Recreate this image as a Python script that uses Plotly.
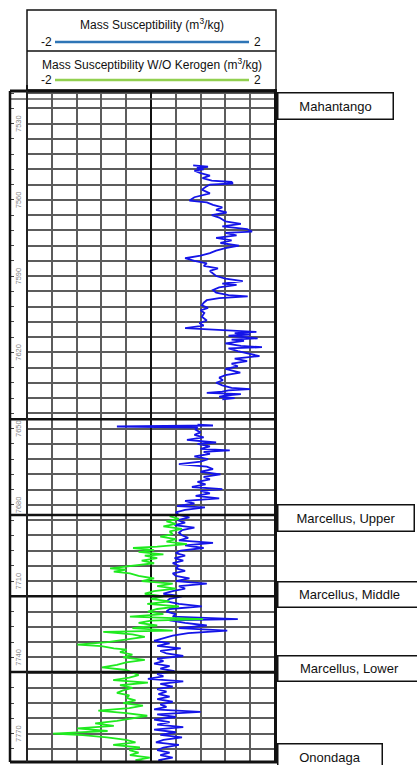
import plotly.graph_objects as go

W, H = 417, 765

# ---------------- data (depth in ft, value in m^3/kg scale -2..2) ----------------
blue_depth = [
    7546.5, 7547.0, 7547.5, 7548.0, 7548.5, 7549.5, 7550.5, 7551.5, 7552.5, 7553.0,
    7553.6, 7554.0, 7555.0, 7556.0, 7557.5, 7559.0, 7560.3, 7561.0, 7562.0, 7563.0,
    7564.0, 7565.0, 7566.0, 7567.0, 7568.5, 7569.5, 7570.5, 7571.5, 7572.5, 7573.0,
    7574.0, 7575.0, 7576.0, 7577.0, 7578.0, 7579.0, 7580.0, 7581.0, 7582.0, 7583.0,
    7584.0, 7585.0, 7586.0, 7587.0, 7588.0, 7589.0, 7590.0, 7591.0, 7592.0, 7593.0,
    7593.5, 7594.5, 7595.5, 7596.5, 7597.5, 7598.0, 7598.7, 7599.5, 7600.5, 7601.5,
    7602.5, 7603.5, 7604.5, 7606.0, 7607.5, 7608.5, 7609.5, 7610.5, 7611.0, 7611.5,
    7612.0, 7612.5, 7613.0, 7613.5, 7614.5, 7615.0, 7615.5, 7616.5, 7617.5, 7618.0,
    7618.5, 7619.5, 7620.5, 7621.5, 7622.5, 7623.5, 7624.5, 7625.5, 7626.5, 7628.0,
    7629.0, 7630.0, 7631.0, 7632.0, 7633.0, 7634.0, 7634.5, 7635.0, 7635.5, 7636.0,
    7636.5, 7637.0, 7637.5, 7638.0, 7638.5,
    None,
    7648.5, 7648.8, 7649.2, 7649.6, 7650.5, 7651.5, 7652.5, 7653.5, 7654.5, 7655.5,
    7656.0, 7657.0, 7658.0, 7658.6, 7659.2, 7660.0, 7661.0, 7662.0, 7663.0, 7664.0,
    7665.0, 7666.0, 7667.0, 7668.0, 7669.0, 7670.0, 7671.0, 7672.0, 7673.0, 7673.8,
    7674.5, 7675.5, 7676.5, 7677.5, 7678.5, 7679.5, 7680.5, 7681.0, 7682.0, 7683.0,
    7684.0, 7685.0, 7686.0, 7687.0, 7688.0, 7689.0, 7690.0, 7691.0, 7692.0, 7693.0,
    7694.0, 7695.0, 7696.0, 7697.0, 7698.0, 7699.0, 7700.0, 7701.0, 7702.0, 7703.0,
    7704.0, 7705.0, 7706.0, 7707.0, 7708.0, 7709.0, 7710.0, 7711.0, 7712.0, 7713.0,
    7714.0, 7715.0, 7716.0, 7717.0, 7718.0, 7719.0, 7720.0, 7721.0, 7722.0, 7723.0,
    7724.0, 7725.0, 7725.5, 7726.5, 7727.5, 7728.5, 7729.5, 7730.5, 7731.5, 7732.5,
    7733.5, 7734.5, 7735.5, 7736.5, 7737.5, 7738.5, 7739.5, 7740.5, 7741.5, 7742.5,
    7743.5, 7744.5, 7745.5, 7746.5, 7747.5, 7748.5, 7749.5, 7750.5, 7751.5, 7752.5,
    7753.5, 7754.5, 7755.5, 7756.5, 7757.5, 7758.5, 7759.5, 7760.5, 7761.5, 7762.5,
    7763.5, 7764.5, 7765.5, 7766.5, 7767.5, 7768.5, 7769.5, 7770.5, 7771.5, 7772.5,
    7773.5, 7774.5, 7775.5, 7776.5, 7777.5, 7778.5, 7779.5, 7780.5, 7781.2,
]
blue_val = [
    0.68, 0.92, 0.74, 0.85, 0.70, 0.80, 0.95, 0.83, 0.98, 1.30,
    1.32, 0.95, 0.88, 0.82, 0.95, 0.70, 0.62, 0.90, 1.00, 1.15,
    1.05, 1.22, 0.98, 1.10, 1.20, 1.45, 1.15, 1.55, 1.63, 1.20,
    1.38, 1.05, 1.30, 1.12, 1.42, 1.20, 1.05, 0.95, 0.80, 0.55,
    0.70, 0.90, 0.85, 1.08, 0.95, 1.00, 1.05, 1.20, 1.48, 1.15,
    1.38, 1.10, 1.00, 1.05, 1.25, 1.56, 1.10, 0.90, 0.85, 0.82,
    0.92, 0.80, 0.86, 0.82, 0.90, 0.78, 0.85, 0.55, 0.90, 1.30,
    1.70, 1.35, 1.60, 1.25, 1.72, 1.30, 1.50, 1.20, 1.45, 1.79,
    1.25, 1.40, 1.60, 1.75, 1.35, 1.55, 1.30, 1.40, 1.20, 1.44,
    1.20, 1.10, 1.16, 1.05, 1.15, 1.30, 1.60, 1.25, 1.15, 0.90,
    1.45, 1.20, 1.10, 1.35, 1.15,
    None,
    0.75, 1.00, -0.55, 0.75, 0.72, 0.80, 0.70, 0.85, 0.58, 1.05,
    0.75, 0.95, 0.80, 1.27, 0.85, 0.95, 0.70, 0.92, 0.80, 0.45,
    0.90, 1.00, 0.80, 1.12, 0.85, 0.95, 0.75, 0.88, 0.66, 1.15,
    0.80, 0.95, 0.72, 1.10, 0.55, 0.70, 0.42, 0.87, 0.55, 0.40,
    0.45, 0.62, 0.43, 0.55, 0.38, 0.70, 0.50, 0.45, 0.50, 0.60,
    0.45, 1.00, 0.55, 0.85, 0.48, 0.40, 0.55, 0.38, 0.52, 0.35,
    0.45, 0.40, 0.55, 0.35, 0.40, 0.62, 0.40, 0.90, 0.45, 0.55,
    0.35, 0.20, 0.50, 0.30, 0.25, 0.45, 0.82, 0.30, 0.25, 0.40,
    0.35, 1.40, 0.30, 0.55, 0.90, 0.45, 1.23, 0.60, 0.35, 0.20,
    0.05, 0.30, 0.10, 0.48, 0.15, 0.25, 0.52, 0.10, 0.20, 0.05,
    0.30, 0.15, 0.38, 0.10, 0.20, -0.05, 0.52, 0.15, 0.35, 0.10,
    0.25, 0.12, 0.30, 0.10, 0.35, 0.15, 0.25, 0.05, 0.80, 0.10,
    0.40, 0.05, 0.30, 0.10, 0.52, 0.05, 0.40, 0.15, 0.50, 0.20,
    0.08, 0.45, 0.20, 0.10, 0.30, 0.15, 0.35, 0.12, 0.20,
]

green_depth = [
    7684.5, 7685.5, 7686.5, 7687.5, 7688.5, 7689.5, 7690.5, 7691.5, 7692.5, 7693.5,
    7694.5, 7695.5, 7696.5, 7697.0, 7697.8, 7698.5, 7699.5, 7700.0, 7701.0, 7702.0,
    7703.0, 7704.0, 7705.0, 7705.5, 7706.3, 7707.0, 7708.0, 7709.0, 7710.0, 7711.0,
    7712.0, 7713.0, 7714.0, 7715.0, 7716.0, 7717.0, 7718.0, 7719.0, 7720.0, 7721.0,
    7722.0, 7723.0, 7724.0, 7725.0, 7725.6, 7726.5, 7727.5, 7728.5, 7729.5, 7730.0,
    7731.0, 7732.0, 7733.0, 7734.0, 7735.0, 7735.6, 7736.5, 7737.0, 7738.0, 7739.0,
    7740.0, 7741.0, 7742.0, 7743.0, 7744.0, 7745.0, 7746.0, 7747.0, 7748.0, 7749.0,
    7750.0, 7751.0, 7752.0, 7753.0, 7754.0, 7755.0, 7756.0, 7757.0, 7758.0, 7759.0,
    7760.0, 7761.0, 7762.0, 7763.0, 7764.0, 7765.0, 7766.0, 7767.0, 7768.0, 7769.0,
    7770.0, 7770.6, 7771.5, 7772.5, 7773.5, 7774.5, 7775.5, 7776.5, 7777.5, 7778.5,
    7779.5, 7780.5, 7781.2,
]
green_val = [
    0.30, 0.45, 0.25, 0.40, 0.20, 0.50, 0.30, 0.35, 0.15, 0.40,
    0.25, 0.58, 0.10, -0.29, 0.05, -0.20, 0.20, -0.10, 0.10, -0.15,
    0.05, -0.30, -0.66, -0.40, -0.60, -0.34, -0.20, 0.05, -0.15, 0.35,
    0.10, 0.40, 0.05, -0.10, 0.20, 0.00, 0.30, -0.06, 0.45, 0.10,
    -0.05, 0.20, -0.34, 0.84, 0.00, -0.20, 0.10, -0.30, 0.35, -0.77,
    -0.30, -0.10, -0.45, -0.70, -1.19, -0.80, -0.60, -0.39, -0.50, -0.30,
    -0.45, -0.10, -0.40, -0.55, -0.79, -0.40, -0.30, -0.20, -0.35, -0.61,
    -0.05, -0.50, -0.30, -0.45, -0.55, -0.35, -0.40, -0.25, -0.45, -0.13,
    -0.35, -0.85, -0.40, -0.06, -0.30, -0.55, -0.90, -0.60, -1.19, -0.70,
    -1.58, -1.10, -0.71, -0.40, -0.25, -0.61, -0.18, -0.35, -0.20, -0.34,
    -0.02, -0.25, -0.10,
]

depth_labels = [7530, 7560, 7590, 7620, 7650, 7680, 7710, 7740, 7770]
formation_names = ["Mahantango", "Marcellus, Upper", "Marcellus, Middle",
                   "Marcellus, Lower", "Onondaga"]
formation_label_depths = [7523.1, 7685.2, 7715.1, 7744.6, 7779.6]
boundary_depths = [7646.3, 7684.0, 7716.0, 7745.8]

top_depth, bottom_depth = 7517.2, 7781.2
x_min, x_max = -2, 2

# ---------------- layout helpers ----------------
def px(x):
    return x / W

def py(y):
    return 1 - y / H

track_l, track_r = 27, 275
track_t, track_b = 91, 762
depth_l = 10

fig = go.Figure()
fig.add_trace(go.Scatter(x=blue_val, y=blue_depth, mode="lines",
                         line=dict(color="#1414e8", width=1.8),
                         connectgaps=False, showlegend=False, hoverinfo="skip"))
fig.add_trace(go.Scatter(x=green_val, y=green_depth, mode="lines",
                         line=dict(color="#1fea1f", width=1.8),
                         showlegend=False, hoverinfo="skip"))

shapes = []
# boundaries (thick horizontal lines)
for d in boundary_depths:
    shapes.append(dict(type="line", xref="paper", yref="y", x0=px(depth_l), x1=px(track_r + 2),
                       y0=d, y1=d, line=dict(color="#111", width=2.5)))
# top lines
shapes.append(dict(type="line", xref="paper", yref="paper", x0=px(depth_l), x1=px(track_r + 2),
                   y0=py(track_t), y1=py(track_t), line=dict(color="#111", width=3)))
shapes.append(dict(type="line", xref="paper", yref="paper", x0=px(depth_l), x1=px(track_r),
                   y0=py(99), y1=py(99), line=dict(color="#555", width=1.5)))
# bottom line
shapes.append(dict(type="line", xref="paper", yref="paper", x0=px(depth_l), x1=px(track_r + 2),
                   y0=py(track_b), y1=py(track_b), line=dict(color="#111", width=3)))
# depth track left border and track borders
shapes.append(dict(type="line", xref="paper", yref="paper", x0=px(depth_l), x1=px(depth_l),
                   y0=py(track_t), y1=py(track_b), line=dict(color="#111", width=2.5)))
shapes.append(dict(type="line", xref="paper", yref="paper", x0=px(track_l), x1=px(track_l),
                   y0=py(track_t - 6), y1=py(track_b), line=dict(color="#222", width=2)))
shapes.append(dict(type="line", xref="paper", yref="paper", x0=px(track_r + 0.5), x1=px(track_r + 0.5),
                   y0=py(track_t - 2), y1=py(track_b), line=dict(color="#111", width=3)))
# header boxes
shapes.append(dict(type="rect", xref="paper", yref="paper", x0=px(27), x1=px(276),
                   y0=py(10), y1=py(90), line=dict(color="#111", width=1.5)))
shapes.append(dict(type="line", xref="paper", yref="paper", x0=px(27), x1=px(276),
                   y0=py(51), y1=py(51), line=dict(color="#111", width=1.5)))
shapes.append(dict(type="line", xref="paper", yref="paper", x0=px(55), x1=px(249),
                   y0=py(42), y1=py(42), line=dict(color="#2e75b6", width=2.5)))
shapes.append(dict(type="line", xref="paper", yref="paper", x0=px(55), x1=px(249),
                   y0=py(80), y1=py(80), line=dict(color="#92d050", width=2.5)))

annotations = []
hdr_font = dict(family="Liberation Sans", size=12, color="#111")
annotations.append(dict(xref="paper", yref="paper", x=px(152), y=py(24),
                        text="Mass Susceptibility (m<sup>3</sup>/kg)", showarrow=False,
                        font=hdr_font, xanchor="center", yanchor="middle"))
annotations.append(dict(xref="paper", yref="paper", x=px(152), y=py(64),
                        text="Mass Susceptibility W/O Kerogen (m<sup>3</sup>/kg)", showarrow=False,
                        font=hdr_font, xanchor="center", yanchor="middle"))
for yy in (42, 80):
    annotations.append(dict(xref="paper", yref="paper", x=px(54), y=py(yy), text=str(x_min),
                            showarrow=False, font=hdr_font, xanchor="right", yanchor="middle"))
    annotations.append(dict(xref="paper", yref="paper", x=px(252), y=py(yy), text=str(x_max),
                            showarrow=False, font=hdr_font, xanchor="left", yanchor="middle"))

# depth labels
for d in depth_labels:
    annotations.append(dict(xref="paper", yref="y", x=px(18.5), y=d, text=str(d),
                            showarrow=False, textangle=-90,
                            font=dict(family="Liberation Sans", size=7.5, color="#858585"),
                            xanchor="center", yanchor="middle"))

# formation labels
box_widths = [112, 133, 140, 140, 101]
box_heights = [23, 23, 22, 22, 24]
for name, d, w, h in zip(formation_names, formation_label_depths, box_widths, box_heights):
    annotations.append(dict(xref="paper", yref="y", x=px(277), y=d, text=name,
                            showarrow=False, xanchor="left", yanchor="middle",
                            width=w, height=h, align="center", valign="middle",
                            bordercolor="#111", borderwidth=1.5, borderpad=1, bgcolor="white",
                            font=dict(family="Liberation Sans", size=13, color="#111")))

fig.update_layout(
    width=W, height=H,
    margin=dict(l=0, r=0, t=0, b=0),
    paper_bgcolor="white", plot_bgcolor="white",
    shapes=shapes, annotations=annotations,
    xaxis=dict(domain=[px(track_l), px(track_r)], range=[x_min, x_max],
               tick0=x_min, dtick=0.4, showgrid=True, gridcolor="#5c5c5c", gridwidth=1.5,
               zeroline=True, zerolinecolor="#111", zerolinewidth=2,
               showticklabels=False, ticks="", showline=False, fixedrange=True),
    yaxis=dict(domain=[py(track_b), py(track_t)], range=[bottom_depth, top_depth],
               tick0=7524, dtick=6, showgrid=True, gridcolor="#5c5c5c", gridwidth=1.5,
               zeroline=False, showticklabels=False, ticks="", showline=False, fixedrange=True),
    yaxis2=dict(overlaying="y", anchor="free", position=px(depth_l), side="right",
                range=[bottom_depth, top_depth], tick0=7524, dtick=6,
                ticks="outside", ticklen=3, tickcolor="#444", tickwidth=1,
                showticklabels=False, showgrid=False, zeroline=False, showline=False,
                fixedrange=True),
    showlegend=False,
)
# invisible trace that activates the depth-track tick axis
fig.add_trace(go.Scatter(x=[x_min], y=[top_depth], yaxis="y2", mode="markers",
                         marker=dict(opacity=0), showlegend=False, hoverinfo="skip"))

fig.write_html("out.html")
